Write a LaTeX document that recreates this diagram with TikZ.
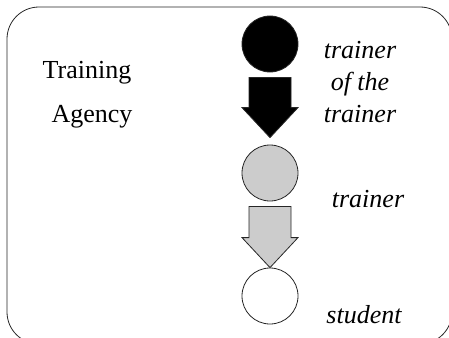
\documentclass[tikz,border=0pt]{standalone}
\usepackage{fontspec}
\setmainfont{Liberation Serif}
\usetikzlibrary{calc}

\tikzset{
  disc/.style={circle, draw=black!85, line width=0.8pt, minimum size=56pt, inner sep=0pt},
  lbl/.style={font=\fontsize{26}{32}\selectfont, inner sep=0pt},
  itlbl/.style={font=\fontsize{26}{32}\selectfont\itshape, inner sep=0pt, align=center},
}

% block arrow from the bottom of node #1 down to the tip #2, filled with #3
\newcommand{\blockarrow}[3]{%
  \draw[draw=black!85, line width=0.8pt, fill=#3]
    ($(#1.south)+(-21,5)$) -- ($(#1.south)+(21,5)$) -- ($(#2)+(21,-30)$)
    -- ($(#2)+(28,-30)$) -- (#2) -- ($(#2)+(-28,-30)$) -- ($(#2)+(-21,-30)$) -- cycle;}

\begin{document}
\begin{tikzpicture}[x=1pt, y=-1pt]
    \useasboundingbox (0,0) rectangle (449,337);
    \clip (0,0) rectangle (449,337);

    % Outer frame (runs off the right and bottom edges)
    \draw[black!85, line width=0.8pt, rounded corners=32pt] (7,7) rectangle (452,344);

    % Left labels
    \node[lbl, anchor=base] (training) at (87,78) {Training};
    \node[lbl, anchor=base] (agency) at (92,122) {Agency};

    % The three levels
    \node[disc, fill=black] (tott) at (270,44) {};
    \node[disc, fill=gray!40] (trainer) at (270,173) {};
    \node[disc, fill=white] (student) at (270,296) {};

    % Arrow tips
    \coordinate (tipa) at ($(trainer.north)+(0,-7)$);
    \coordinate (tipb) at (student.north);

    % Block arrows between the levels
    \blockarrow{tott}{tipa}{black}
    \blockarrow{trainer}{tipb}{gray!40}

    % Right labels (base = last line)
    \node[itlbl, anchor=base] (tottlabel) at (360,122) {trainer\\of the\\trainer};
    \node[itlbl, anchor=base] (trainerlabel) at (368,207) {trainer};
    \node[itlbl, anchor=base] (studentlabel) at (364,323) {student};
\end{tikzpicture}
\end{document}
